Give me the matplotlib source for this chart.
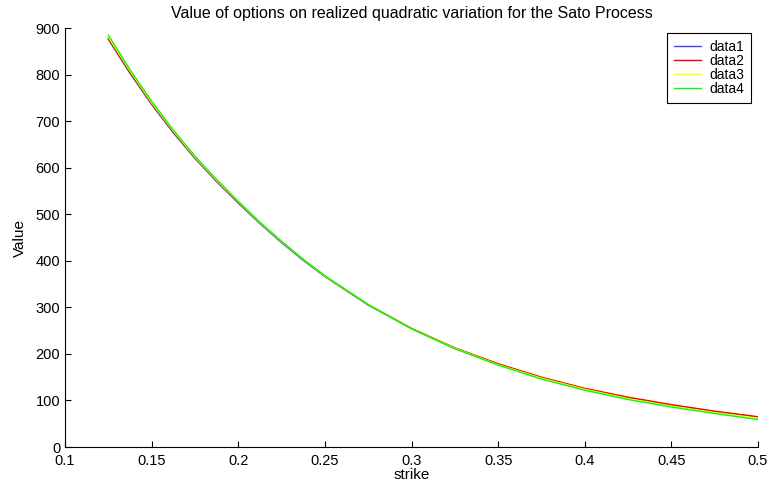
import numpy as np
import matplotlib
matplotlib.use("Agg")
import matplotlib.pyplot as plt

plt.rcParams['font.family'] = ['Liberation Sans', 'DejaVu Sans']

# strikes and option values
strike = [0.125, 0.1375, 0.15, 0.1625, 0.175, 0.1875, 0.2, 0.2125, 0.225, 0.2375, 0.25,
          0.275, 0.3, 0.325, 0.35, 0.375, 0.4, 0.425, 0.45, 0.475, 0.5]
data1 = [876, 803, 736, 675, 620, 570, 524, 480, 439, 401, 366,
         305, 254, 212, 178, 149, 125, 106, 90, 76, 64]
data2 = [878, 805, 738, 677, 622, 572, 526, 482, 441, 403, 367,
         306, 255, 213, 179, 150, 126, 107, 91, 77, 65]
data3 = [881, 808, 740, 679, 623, 573, 527, 482, 441, 403, 367,
         306, 254, 212, 177, 148, 124, 104, 88, 74, 62]
data4 = [885, 811, 743, 681, 625, 575, 528, 483, 442, 403, 368,
         306, 254, 211, 176, 146, 122, 102, 86, 72, 59]

xticks = [0.1, 0.15, 0.2, 0.25, 0.3, 0.35, 0.4, 0.45, 0.5]
xticklabels = ['0.1', '0.15', '0.2', '0.25', '0.3', '0.35', '0.4', '0.45', '0.5']
yticks = [0, 100, 200, 300, 400, 500, 600, 700, 800, 900]

fig = plt.figure(figsize=(7.73, 4.82), dpi=100)
ax = fig.add_axes([0.0841, 0.0726, 0.8965, 0.869])

ax.plot(strike, data1, color='#4040ff', lw=1.0, label='data1')
ax.plot(strike, data2, color='#ff0000', lw=1.0, label='data2')
ax.plot(strike, data3, color='#ffff00', lw=1.0, label='data3')
ax.plot(strike, data4, color='#00ff00', lw=1.0, label='data4')

ax.set_xlim(0.1, 0.5)
ax.set_ylim(0, 900)
ax.set_xticks(xticks)
ax.set_xticklabels(xticklabels)
ax.set_yticks(yticks)
ax.tick_params(direction='in', labelsize=10.5, length=4)
ax.tick_params(axis='x', pad=5)
ax.spines['top'].set_visible(False)
ax.spines['right'].set_visible(False)

ax.set_title('Value of options on realized quadratic variation for the Sato Process',
             fontsize=11.5, pad=7)
ax.set_xlabel('strike', fontsize=11, labelpad=0)
ax.set_ylabel('Value', fontsize=11, labelpad=6)

leg = ax.legend(loc='upper right', bbox_to_anchor=(0.99, 0.988), borderaxespad=0,
                fontsize=10, fancybox=False, framealpha=1, edgecolor='black',
                handlelength=1.9, handletextpad=0.6, borderpad=0.5, labelspacing=0.0)
leg.get_frame().set_linewidth(0.8)

fig.savefig('out.png', dpi=100)
